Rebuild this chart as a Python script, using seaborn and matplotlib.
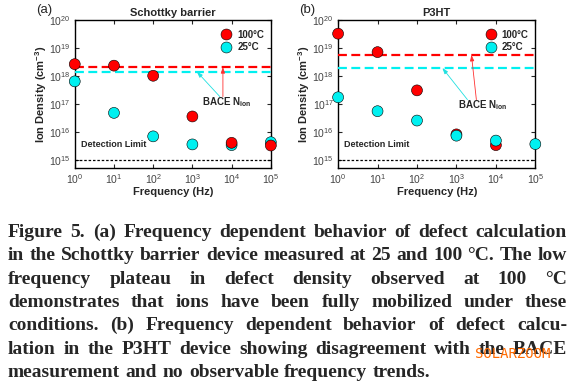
import matplotlib
matplotlib.use("Agg")
import matplotlib.pyplot as plt
import seaborn as sns
import pandas as pd

# values
freq = [1, 10, 100, 1e3, 1e4, 1e5]
labels = ["100°C", "25°C"]

a_hot = [2.6e18, 2.3e18, 1.0e18, 3.5e16, 4.0e15, 3.2e15]
a_cold = [6.3e17, 4.7e16, 6.8e15, 3.5e15, 3.3e15, 4.2e15]
a_bace = [2.05e18, 1.4e18]

b_hot_freq = [1, 10, 100, 1e3, 1e4]
b_hot = [3.2e19, 7.0e18, 3.0e17, 8.0e15, 3.3e15]
b_cold = [1.7e17, 5.4e16, 2.5e16, 7.2e15, 4.8e15, 3.6e15]
b_bace = [5.6e18, 1.9e18]

detection = 1e15
titles = ["Schottky barrier", "P3HT"]

caption = [
    "Figure 5. (a) Frequency dependent behavior of defect calculation",
    "in the Schottky barrier device measured at 25 and 100 °C. The low",
    "frequency plateau in defect density observed at 100 °C",
    "demonstrates that ions have been fully mobilized under these",
    "conditions. (b) Frequency dependent behavior of defect calcu-",
    "lation in the P3HT device showing disagreement with the BACE",
    "measurement and no observable frequency trends.",
]

sns.set_style("ticks")
plt.rcParams['font.family'] = ['Liberation Sans', 'DejaVu Sans']
plt.rcParams['mathtext.fontset'] = 'custom'
plt.rcParams['mathtext.rm'] = 'Liberation Sans'
plt.rcParams['mathtext.bf'] = 'Liberation Sans:bold'

RED = "#ff0000"
CYAN = "#00f0f0"
palette = {"100°C": RED, "25°C": CYAN}

W, H = 575, 389
fig = plt.figure(figsize=(W / 100, H / 100), dpi=100)
ax_a = fig.add_axes([0.130, 0.568, 0.341, 0.381])
ax_b = fig.add_axes([0.588, 0.568, 0.343, 0.381])

df_a = pd.DataFrame({
    "freq": freq + freq,
    "density": a_cold + a_hot,
    "temp": ["25°C"] * len(freq) + ["100°C"] * len(freq),
})
df_b = pd.DataFrame({
    "freq": b_hot_freq + freq,
    "density": b_hot + b_cold,
    "temp": ["100°C"] * len(b_hot_freq) + ["25°C"] * len(freq),
})


def draw_panel(ax, df, bace, title, letter, text_pos, arrows):
    sns.scatterplot(data=df, x="freq", y="density", hue="temp", hue_order=labels,
                    palette=palette, s=62, edgecolor="black", linewidth=0.4,
                    ax=ax, zorder=5)
    ax.collections[-1].set_clip_on(False)
    ax.set_xscale("log")
    ax.set_yscale("log")
    ax.set_xlim(1, 1e5)
    ax.set_ylim(5e14, 1e20)
    ax.set_xticks(freq)
    ax.set_yticks([1e15, 1e16, 1e17, 1e18, 1e19, 1e20])
    ax.minorticks_off()
    ax.tick_params(direction="in", top=True, right=True, length=3, width=0.8,
                   labelsize=7.5, labelcolor="#444444", pad=3)
    for sp in ax.spines.values():
        sp.set_linewidth(1.0)
        sp.set_color("black")

    ax.axhline(bace[0], color=RED, lw=1.6, ls=(0, (4, 2)), zorder=3)
    ax.axhline(bace[1], color=CYAN, lw=1.6, ls=(0, (4, 2)), zorder=3)
    ax.axhline(detection, color="black", lw=0.9, ls=(0, (2, 1.5)), zorder=3)
    ax.text(0.03, 0.13, "Detection Limit", transform=ax.transAxes,
            fontsize=6.5, fontweight="bold", va="bottom")

    ax.text(text_pos[0], text_pos[1], r"BACE N$_{\mathbf{ion}}$", transform=ax.transAxes,
            fontsize=7, fontweight="bold", ha="center", va="center")
    for (x0, y0, x1, y1, c) in arrows:
        ax.annotate("", xy=(x1, y1), xytext=(x0, y0),
                    arrowprops=dict(arrowstyle="-|>,head_length=0.35,head_width=0.12",
                                    color=c, lw=0.6, shrinkA=0, shrinkB=0))

    ax.set_title(title, fontsize=8, fontweight="bold", pad=3)
    ax.set_xlabel("Frequency (Hz)", fontsize=8, fontweight="bold", labelpad=1)
    ax.set_ylabel(r"Ion Density (cm$^{\mathbf{-3}}$)", fontsize=8, fontweight="bold", labelpad=0)

    sns.move_legend(ax, "upper right", bbox_to_anchor=(1.0, 0.98), frameon=False,
                    title=None, prop={"weight": "bold", "size": 7},
                    handletextpad=0.1, labelspacing=0.25, borderaxespad=0.3)

    pos = ax.get_position()
    fig.text(pos.x0 - 0.068, pos.y1 + 0.01, letter, fontsize=9.5, va="bottom")


draw_panel(ax_a, df_a, a_bace, titles[0], "(a)", (0.775, 0.445),
           [(6000, 1.8e17, 6000, a_bace[0], "#ff3030"),
            (5000, 1.8e17, 1300, a_bace[1], "#20e0e0")])
draw_panel(ax_b, df_b, b_bace, titles[1], "(b)", (0.735, 0.425),
           [(3200, 1.4e17, 2400, b_bace[0], "#ff3030"),
            (1900, 1.4e17, 440, b_bace[1], "#20e0e0")])

# caption, justified line by line
renderer = fig.canvas.get_renderer()
cap_font = dict(family=["Liberation Serif", "DejaVu Serif"], fontsize=14, fontweight="bold")
x_left, x_right = 8, 567
base0, step = 237, 23.3


def word_width(w):
    t = fig.text(0, 0, w, **cap_font)
    width = t.get_window_extent(renderer).width
    t.remove()
    return width


for i, line in enumerate(caption):
    words = line.split(" ")
    widths = [word_width(w) for w in words]
    if i < len(caption) - 1:
        gap = (x_right - x_left - sum(widths)) / (len(words) - 1)
    else:
        gap = 5.5
    x = x_left
    y = 1 - (base0 + i * step) / H
    for w, wd in zip(words, widths):
        fig.text(x / W, y, w, va="baseline", ha="left", **cap_font)
        x += wd + gap

fig.text(475 / W, 1 - 358 / H, "SOLARZOOM", color="#ff6a00",
         family="DejaVu Sans Mono", fontsize=10, va="baseline")

fig.savefig("out.png", dpi=100)
